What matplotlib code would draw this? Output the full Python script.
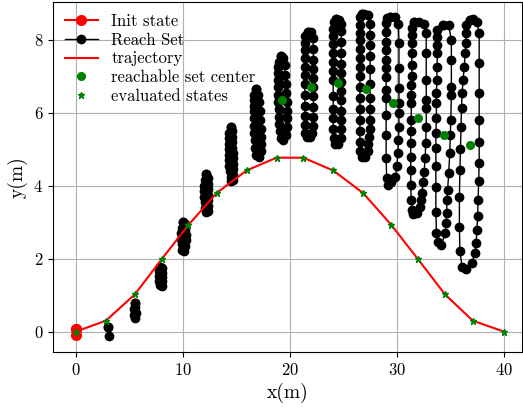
import matplotlib
matplotlib.use("Agg")
import matplotlib.pyplot as plt

plt.rcParams['font.family'] = 'serif'
plt.rcParams['font.serif'] = ['cmr10']
plt.rcParams['mathtext.fontset'] = 'cm'
plt.rcParams['axes.formatter.use_mathtext'] = True

# initial state box
init_x = [0.0, 0.0, 0.0]
init_y = [0.08, -0.08, 0.08]

# evaluated states along the trajectory
traj_x = [0.0, 2.8, 5.5, 8.0, 10.5, 13.15, 15.95, 18.75, 21.25, 24.05, 26.85, 29.5, 32.0, 34.5, 37.1, 40.0]
traj_y = [0.0, 0.3, 1.02, 1.98, 2.92, 3.8, 4.42, 4.77, 4.77, 4.42, 3.8, 2.92, 1.98, 1.02, 0.3, 0.0]

# reachable set centers (only the visible ones)
center_x = [19.3, 22.0, 24.5, 27.1, 29.6, 32.0, 34.4, 36.8]
center_y = [6.35, 6.72, 6.83, 6.65, 6.28, 5.85, 5.39, 5.12]

# reach set outlines (x, y), one per step
set01 = [(3.0, 0.13), (3.05, -0.13), (3.0, 0.13)]
set02 = [(5.5, 0.78), (5.45, 0.62), (5.45, 0.45), (5.55, 0.38), (5.6, 0.5), (5.55, 0.68), (5.5, 0.78)]
set03 = [(7.85, 1.78), (7.8, 1.65), (7.8, 1.52), (7.8, 1.4), (7.85, 1.28),
         (8.0, 1.25), (8.05, 1.38), (8.05, 1.5), (8.05, 1.62), (8.0, 1.75), (7.85, 1.78)]
set04 = [(10.05, 3.0), (9.9, 2.85), (9.85, 2.7), (9.85, 2.55), (9.9, 2.4), (9.95, 2.25),
         (10.1, 2.2), (10.2, 2.35), (10.25, 2.5), (10.25, 2.65), (10.2, 2.8), (10.15, 2.95), (10.05, 3.0)]
set05 = [(12.2, 4.32), (12.05, 4.15), (12.0, 4.0), (12.0, 3.85), (12.0, 3.7), (12.05, 3.55), (12.1, 3.4),
         (12.15, 3.28), (12.3, 3.3), (12.35, 3.45), (12.35, 3.6), (12.35, 3.75), (12.35, 3.9), (12.35, 4.05),
         (12.3, 4.2), (12.2, 4.32)]
set06 = [(14.45, 5.6), (14.35, 5.45), (14.3, 5.3), (14.3, 5.15), (14.3, 5.0), (14.3, 4.85), (14.35, 4.7),
         (14.35, 4.55), (14.4, 4.4), (14.45, 4.25), (14.5, 4.12), (14.65, 4.15), (14.65, 4.3), (14.65, 4.45),
         (14.65, 4.6), (14.65, 4.75), (14.65, 4.9), (14.6, 5.05), (14.6, 5.2), (14.6, 5.35), (14.55, 5.5),
         (14.45, 5.6)]
set07 = [(16.8, 6.65), (16.6, 6.5), (16.6, 6.35), (16.6, 6.2), (16.6, 6.05), (16.6, 5.85), (16.65, 5.65),
         (16.65, 5.45), (16.7, 5.25), (16.75, 5.05), (16.85, 4.85), (17.1, 4.8), (17.3, 4.95), (17.3, 5.15),
         (17.3, 5.35), (17.3, 5.55), (17.25, 5.8), (17.2, 6.05), (17.1, 6.3), (17.0, 6.5), (16.8, 6.65)]
set08 = [(19.2, 7.55), (18.95, 7.4), (18.9, 7.25), (18.9, 7.1), (18.9, 6.9), (18.9, 6.7), (18.9, 6.5),
         (18.9, 6.3), (18.95, 6.1), (18.95, 5.9), (19.0, 5.7), (19.05, 5.5), (19.15, 5.3), (19.4, 5.25),
         (19.6, 5.4), (19.7, 5.6), (19.7, 5.85), (19.7, 6.05), (19.7, 6.3), (19.65, 6.55), (19.6, 6.8),
         (19.55, 7.05), (19.5, 7.3), (19.4, 7.5), (19.2, 7.55)]
set09 = [(21.65, 8.22), (21.45, 8.1), (21.4, 7.92), (21.4, 7.72), (21.4, 7.5), (21.4, 7.27), (21.4, 7.04),
         (21.4, 6.8), (21.4, 6.5), (21.4, 6.2), (21.4, 5.92), (21.4, 5.68), (21.45, 5.45),
         (21.6, 5.33), (21.9, 5.33),
         (22.1, 5.45), (22.15, 5.65), (22.2, 5.9), (22.2, 6.15), (22.2, 6.45), (22.2, 6.7), (22.2, 6.95),
         (22.2, 7.2), (22.2, 7.45), (22.2, 7.75), (22.15, 8.05), (21.95, 8.22), (21.65, 8.22)]
set10 = [(24.35, 8.57), (24.1, 8.5), (24.05, 8.3), (24.05, 8.1), (24.05, 7.9), (24.05, 7.65), (24.05, 7.4),
         (24.05, 7.15), (24.05, 6.9), (24.05, 6.45), (24.05, 6.12), (24.05, 5.85), (24.05, 5.55), (24.1, 5.3),
         (24.2, 5.15), (24.5, 5.15),
         (24.75, 5.3), (24.8, 5.55), (24.8, 5.8), (24.8, 6.05), (24.8, 6.35), (24.8, 6.6), (24.8, 6.85),
         (24.8, 7.1), (24.8, 7.35), (24.8, 7.65), (24.8, 7.95), (24.8, 8.25), (24.8, 8.45),
         (24.6, 8.55), (24.35, 8.57)]
set11 = [(26.75, 8.7), (26.55, 8.62), (26.55, 8.42), (26.55, 8.2), (26.55, 8.0), (26.55, 7.75), (26.55, 7.5),
         (26.55, 7.25), (26.55, 7.0), (26.55, 6.7), (26.55, 6.4), (26.55, 6.1), (26.55, 5.8), (26.55, 5.5),
         (26.55, 5.2), (26.6, 4.95),
         (26.75, 4.78), (27.05, 4.8),
         (27.3, 4.95), (27.35, 5.15), (27.4, 5.35), (27.45, 5.55), (27.45, 5.8), (27.5, 6.1), (27.5, 6.4),
         (27.5, 6.8), (27.5, 7.2), (27.5, 7.55), (27.5, 7.85), (27.5, 8.15), (27.45, 8.45),
         (27.3, 8.68), (26.95, 8.72), (26.75, 8.7)]
set12 = [(29.4, 8.62), (29.1, 8.6), (29.0, 8.46), (29.0, 8.23), (29.0, 7.95), (29.0, 7.73), (29.0, 7.45),
         (29.0, 7.22), (29.0, 6.99), (29.0, 6.63), (29.0, 6.4), (29.0, 5.94), (29.0, 5.4), (29.0, 4.76),
         (29.05, 4.2),
         (29.2, 4.03), (29.5, 4.1),
         (29.85, 4.25), (30.0, 4.53), (30.1, 4.89), (30.15, 5.26), (30.2, 5.62), (30.2, 5.99), (30.2, 6.26),
         (30.2, 6.67), (30.2, 7.22), (30.2, 7.91), (30.15, 8.45),
         (29.85, 8.62), (29.4, 8.62)]
set13 = [(31.6, 8.5), (31.4, 8.32), (31.4, 8.14), (31.4, 7.91), (31.4, 7.64), (31.4, 7.32), (31.4, 7.0),
         (31.35, 6.77), (31.35, 6.49), (31.35, 6.26), (31.35, 5.81), (31.3, 5.49), (31.3, 5.17), (31.3, 4.8),
         (31.3, 4.44), (31.3, 4.02), (31.35, 3.61), (31.4, 3.34),
         (31.55, 3.22), (31.85, 3.25),
         (32.2, 3.43), (32.3, 3.61), (32.35, 3.8), (32.45, 4.11), (32.55, 4.39), (32.65, 4.75), (32.7, 5.17),
         (32.75, 5.62), (32.75, 6.13), (32.75, 6.36), (32.75, 6.9), (32.75, 7.64), (32.75, 8.2),
         (32.55, 8.45), (32.1, 8.5), (31.6, 8.5)]
set14 = [(34.3, 8.41), (33.8, 8.28), (33.8, 8.09), (33.8, 7.86), (33.8, 7.64), (33.75, 7.27), (33.75, 6.9),
         (33.7, 6.54), (33.7, 6.26), (33.7, 5.85), (33.65, 5.44), (33.65, 5.03), (33.65, 4.53), (33.65, 3.98),
         (33.65, 3.29), (33.7, 2.7),
         (33.85, 2.45), (34.15, 2.38),
         (34.55, 2.7), (34.6, 2.97), (34.65, 3.25), (34.7, 3.61), (34.75, 3.89), (34.85, 4.34), (34.95, 4.89),
         (35.0, 5.4), (35.05, 5.81), (35.1, 6.49), (35.1, 6.72), (35.1, 7.45), (35.1, 8.0),
         (34.85, 8.4), (34.3, 8.41)]
set15 = [(36.8, 8.55), (36.45, 8.4), (36.45, 8.18), (36.45, 7.93), (36.4, 7.64), (36.3, 7.27), (36.2, 6.9),
         (36.1, 6.54), (36.05, 6.13), (36.0, 5.6), (35.95, 5.0), (35.9, 4.44), (35.85, 3.7), (35.85, 2.88),
         (35.9, 2.2),
         (36.1, 1.78), (36.5, 1.72),
         (37.0, 1.88), (37.3, 2.15), (37.4, 2.42), (37.5, 2.79), (37.55, 3.16), (37.6, 3.61), (37.65, 4.12),
         (37.7, 4.62), (37.7, 5.21), (37.7, 5.81), (37.7, 6.54), (37.7, 7.36), (37.7, 8.18),
         (37.5, 8.5), (37.15, 8.58), (36.8, 8.55)]
reach_sets = [set01, set02, set03, set04, set05, set06, set07, set08,
              set09, set10, set11, set12, set13, set14, set15]

fig = plt.figure(figsize=(5.23, 4.13), dpi=100)
ax = fig.add_axes([0.1013, 0.1477, 0.8967, 0.8473])

ax.plot(init_x, init_y, 'o-', color='red', markersize=7, lw=1.5, label='Init state', zorder=4)
for k, pts in enumerate(reach_sets):
    xs, ys = zip(*pts)
    ax.plot(xs, ys, 'o-', color='black', markersize=6, lw=1.0,
            label='Reach Set' if k == 0 else None, zorder=2)
ax.plot(traj_x, traj_y, '-', color='red', lw=1.5, label='trajectory', zorder=3)
ax.plot(center_x, center_y, 'o', color='green', markersize=5.5, ls='none',
        label='reachable set center', zorder=5)
ax.plot(traj_x, traj_y, '*', color='green', markersize=5, ls='none',
        label='evaluated states', zorder=4)

ax.set_xlim(-2.15, 41.7)
ax.set_ylim(-0.56, 9.04)
ax.set_xticks([0, 10, 20, 30, 40])
ax.set_yticks([0, 2, 4, 6, 8])
ax.tick_params(labelsize=12)
ax.grid(True, color='#b0b0b0', lw=0.8)
ax.set_axisbelow(True)
ax.set_xlabel('x(m)', fontsize=14)
ax.set_ylabel('y(m)', fontsize=14)
ax.legend(loc='upper left', fontsize=12, frameon=False, labelspacing=0.2,
          handlelength=2.0, borderaxespad=0.3, handletextpad=0.8)

fig.savefig('out.png', dpi=100)
